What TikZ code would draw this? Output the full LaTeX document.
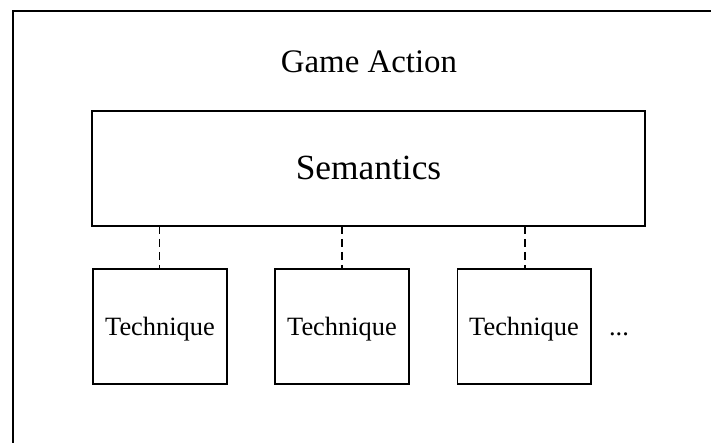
\documentclass[tikz,border=0pt]{standalone}
\usepackage{fontspec}
\setmainfont{Liberation Serif}
\begin{document}
\begin{tikzpicture}[x=1bp,y=-1bp,
  boxstyle/.style={draw=black, line width=1.8bp, fill=white},
  link/.style={draw=black, line width=1.8bp, dash pattern=on 8bp off 5bp},
  titletext/.style={anchor=base, inner sep=0pt, font=\fontsize{33}{38}\selectfont},
  semtext/.style={anchor=base, inner sep=0pt, font=\fontsize{35.5}{40}\selectfont},
  techtext/.style={anchor=base, inner sep=0pt, font=\fontsize{26.5}{31}\selectfont}]
  \useasboundingbox (0,0) rectangle (711,443);
  % outer frame (only top and left edges fall inside the page)
  \draw[line width=2bp] (13,443) -- (13,11.5) -- (711,11.5);
  \node[titletext] (title) at (369,73) {Game Action};
  % semantics layer
  \draw[boxstyle] (92,111) rectangle (645,226);
  \coordinate (sem1) at (159.5,226);
  \coordinate (sem2) at (342,226);
  \coordinate (sem3) at (525,226);
  \node[semtext] (sem) at (368.5,180) {Semantics};
  % technique boxes
  \draw[boxstyle] (93,269) rectangle (227,384);
  \draw[boxstyle] (275,269) rectangle (409,384);
  \draw[boxstyle] (457.5,269) rectangle (591,384);
  \coordinate (t1) at (159.5,269);
  \coordinate (t2) at (342,269);
  \coordinate (t3) at (525,269);
  \node[techtext] (tech1) at (160,336) {Technique};
  \node[techtext] (tech2) at (342,336) {Technique};
  \node[techtext] (tech3) at (524,336) {Technique};
  \node[techtext] (more) at (619,336) {...};
  \draw[link] (sem1) -- (t1);
  \draw[link] (sem2) -- (t2);
  \draw[link] (sem3) -- (t3);
\end{tikzpicture}
\end{document}
